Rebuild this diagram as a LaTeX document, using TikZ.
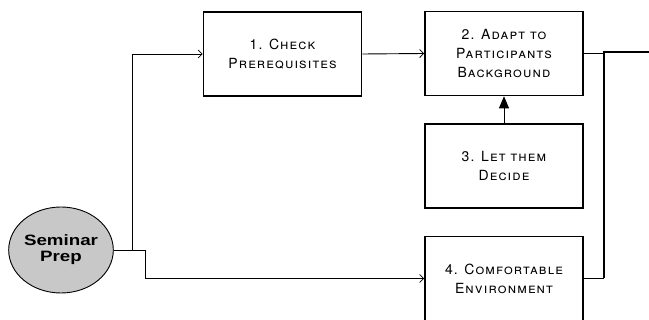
\documentclass[tikz,border=0pt]{standalone}
\usepackage{fontspec}
\setmainfont{TeX Gyre Heros}
\newfontfamily\boxfont[LetterSpace=8]{TeX Gyre Heros}
\newfontfamily\circfont[FakeStretch=1.25]{Liberation Sans}
\usetikzlibrary{shapes.geometric,arrows.meta}
\definecolor{circgray}{RGB}{200,200,200}
\tikzset{
  stepbox/.style={draw=black, line width=1.6pt, rectangle, minimum width=158pt, minimum height=84pt,
    align=center, inner sep=0pt, font=\boxfont\fontsize{14}{19}\selectfont\scshape},
  conn/.style={draw=black, line width=0.9pt},
  openarr/.style={conn, -{Straight Barb[length=4pt,width=8pt,line width=0.8pt]}},
  fillarr/.style={conn, -{Triangle[length=12pt,width=10pt]}},
  thick line/.style={draw=black, line width=1.8pt},
}
\begin{document}
\begin{tikzpicture}[x=1pt,y=-1pt]
\useasboundingbox (0,0) rectangle (649,320);
\clip (0,0) rectangle (649,320);
\node[ellipse, draw=black, line width=0.9pt, fill=circgray, minimum width=95pt, minimum height=86pt,
  inner sep=0pt, align=center, font=\circfont\bfseries\fontsize{15}{16}\selectfont] (prep) at (61,250) {Seminar\\Prep};
\node[stepbox] (b1) at (282.5,54) {1. Check\\Prerequisites};
\node[stepbox] (b2) at (504,53.5) {2. Adapt to\\Participants\\Background};
\node[stepbox] (b3) at (504,166) {3. Let them\\Decide};
\node[stepbox] (b4) at (504,278.5) {4. Comfortable\\Environment};
\coordinate (s1) at (132,250);
\coordinate (s2) at (145,250);
\coordinate (m) at (604,52);
\coordinate (out) at (649,52);
\draw[conn] (prep.east) -- (s2);
\draw[openarr] (s1) |- (b1.west);
\draw[openarr] (s2) |- (b4.west);
\draw[openarr] (b1.east) -- (b2.west);
\draw[fillarr] (b3.north) -- (b2.south);
\draw[conn] (b2.east) -- (b2.east -| m);
\draw[conn] (b4.east) -- (b4.east -| m);
\draw[thick line] (b4.east -| m) -- (m) -- (out);
\end{tikzpicture}
\end{document}
